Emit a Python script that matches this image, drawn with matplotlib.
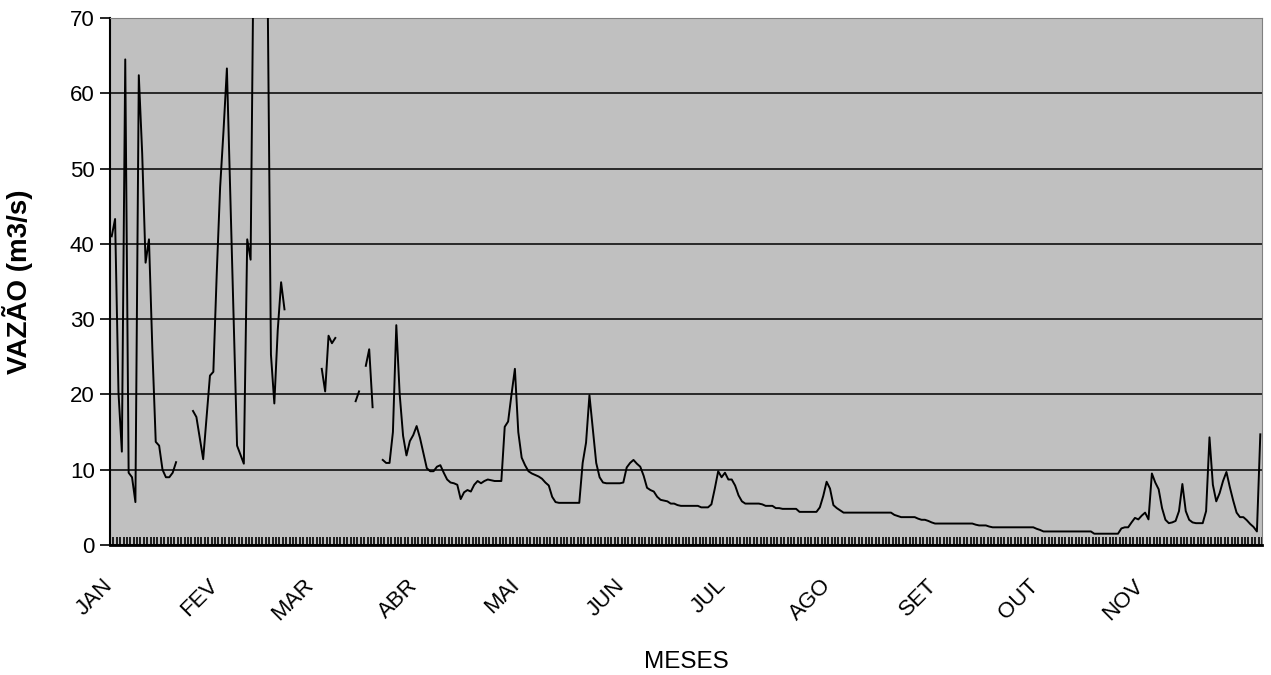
import numpy as np
import matplotlib
matplotlib.use('Agg')
import matplotlib.pyplot as plt

plt.rcParams['font.family'] = ['Liberation Sans', 'DejaVu Sans']

nan = None

# vazao diaria (m3/s), um valor por dia, lacunas = None
jan = [41.0, 43.3, 20.3, 12.4, 64.5, 9.6, 9.0, 5.7, 62.4, 52.0,
       37.5, 40.6, 26.0, 13.7, 13.2, 10.0, 9.0, 9.0, 9.6, 11.0,
       nan, nan, nan, nan, 17.8, 17.0, 14.2, 11.4, 17.0, 22.5, 23.0]
fev = [36.0, 47.5, 55.0, 63.3, 46.6, 29.9, 13.2, 12.0, 10.8, 40.6,
       37.9, 85.0, 120.0, 110.0, 95.0, 75.0, 25.3, 18.8, 28.5, 34.9,
       31.3, nan, nan, nan, nan, nan, nan, nan]
mar = [nan, nan, nan, 23.4, 20.4, 27.8, 26.8, 27.5, nan, nan,
       nan, nan, nan, 19.1, 20.4, nan, 23.8, 26.0, 18.3, nan,
       nan, 11.3, 10.9, 10.9, 15.0, 29.2, 20.0, 14.5, 11.9, 13.8, 14.6]
abr = [15.8, 14.2, 12.2, 10.2, 9.8, 9.8, 10.4, 10.6, 9.6, 8.7,
       8.3, 8.2, 8.0, 6.1, 7.0, 7.3, 7.1, 8.0, 8.5, 8.2,
       8.5, 8.7, 8.6, 8.5, 8.5, 8.5, 15.7, 16.4, 20.0, 23.4]
mai = [15.0, 11.6, 10.6, 9.8, 9.5, 9.3, 9.1, 8.8, 8.3, 7.9,
       6.4, 5.7, 5.6, 5.6, 5.6, 5.6, 5.6, 5.6, 5.6, 10.9,
       13.6, 19.9, 15.4, 10.9, 9.0, 8.3, 8.2, 8.2, 8.2, 8.2, 8.2]
jun = [8.3, 10.3, 10.9, 11.3, 10.8, 10.4, 9.2, 7.6, 7.3, 7.1,
       6.4, 6.0, 5.9, 5.8, 5.5, 5.5, 5.3, 5.2, 5.2, 5.2,
       5.2, 5.2, 5.2, 5.0, 5.0, 5.0, 5.4, 7.5, 9.8, 9.0]
jul = [9.6, 8.7, 8.7, 7.9, 6.6, 5.8, 5.5, 5.5, 5.5, 5.5,
       5.5, 5.4, 5.2, 5.2, 5.2, 4.9, 4.9, 4.8, 4.8, 4.8,
       4.8, 4.8, 4.4, 4.4, 4.4, 4.4, 4.4, 4.4, 5.0, 6.5, 8.4]
ago = [7.5, 5.3, 4.9, 4.6, 4.3, 4.3, 4.3, 4.3, 4.3, 4.3,
       4.3, 4.3, 4.3, 4.3, 4.3, 4.3, 4.3, 4.3, 4.3, 4.0,
       3.85, 3.7, 3.7, 3.7, 3.7, 3.7, 3.5, 3.35, 3.35, 3.2, 3.0]
set_ = [2.85, 2.85, 2.85, 2.85, 2.85, 2.85, 2.85, 2.85, 2.85, 2.85,
        2.85, 2.85, 2.7, 2.6, 2.6, 2.6, 2.45, 2.35, 2.35, 2.35,
        2.35, 2.35, 2.35, 2.35, 2.35, 2.35, 2.35, 2.35, 2.35, 2.35]
out = [2.15, 2.0, 1.8, 1.8, 1.8, 1.8, 1.8, 1.8, 1.8, 1.8,
       1.8, 1.8, 1.8, 1.8, 1.8, 1.8, 1.8, 1.5, 1.5, 1.5,
       1.5, 1.5, 1.5, 1.5, 1.5, 2.2, 2.35, 2.35, 3.0, 3.6, 3.4]
nov = [3.9, 4.3, 3.4, 9.5, 8.3, 7.4, 4.9, 3.35, 2.9, 3.0,
       3.2, 4.5, 8.1, 4.5, 3.35, 3.0, 2.9, 2.9, 2.9, 4.5,
       14.3, 8.0, 5.8, 6.9, 8.5, 9.7, 7.7, 5.9, 4.3, 3.7]
dez = [3.7, 3.3, 2.8, 2.4, 1.8, 14.7]

meses = ['JAN', 'FEV', 'MAR', 'ABR', 'MAI', 'JUN', 'JUL', 'AGO', 'SET', 'OUT', 'NOV']
blocos = [jan, fev, mar, abr, mai, jun, jul, ago, set_, out, nov, dez]

vazao = np.array(sum(blocos, []), dtype=float)
ndias = len(vazao)
dias = np.arange(ndias) + 0.5

# posicao do rotulo de cada mes = primeiro dia do mes
inicio = np.cumsum([0] + [len(b) for b in blocos])[:len(meses)]
rotulos = [''] * (ndias + 1)
for i, m in zip(inicio, meses):
    rotulos[i] = m

fig = plt.figure(figsize=(12.71, 6.75), dpi=100)
ax = fig.add_axes([110 / 1271, 1 - 545 / 675, 1152 / 1271, 527 / 675])
ax.set_facecolor('#C0C0C0')

ax.plot(dias, vazao, color='black', lw=1.4, zorder=3)

ax.set_xlim(0, ndias)
ax.set_ylim(0, 70)
ax.set_yticks(range(0, 71, 10))
ax.yaxis.grid(True, color='black', lw=1.1, zorder=1)

ax.set_xticks(np.arange(ndias + 1))
ax.set_xticklabels(rotulos, rotation=45, ha='right', va='center',
                   rotation_mode='anchor')
ax.tick_params(axis='x', direction='in', length=5.5, width=1.2,
               labelsize=16, pad=27)
ax.tick_params(axis='y', direction='out', length=7, width=1.2,
               labelsize=16, pad=4)

for s in ['top', 'right']:
    ax.spines[s].set_color('#808080')
    ax.spines[s].set_linewidth(0.8)
ax.spines['left'].set_linewidth(1.5)
ax.spines['bottom'].set_linewidth(2.0)

fig.text(686 / 1271, 1 - 662 / 675, 'MESES', ha='center', va='center', fontsize=17.5)
fig.text(18 / 1271, 1 - 282 / 675, 'VAZÃO (m3/s)', ha='center', va='center',
         rotation=90, fontsize=20, fontweight='bold')

fig.savefig('out.png', dpi=100)
